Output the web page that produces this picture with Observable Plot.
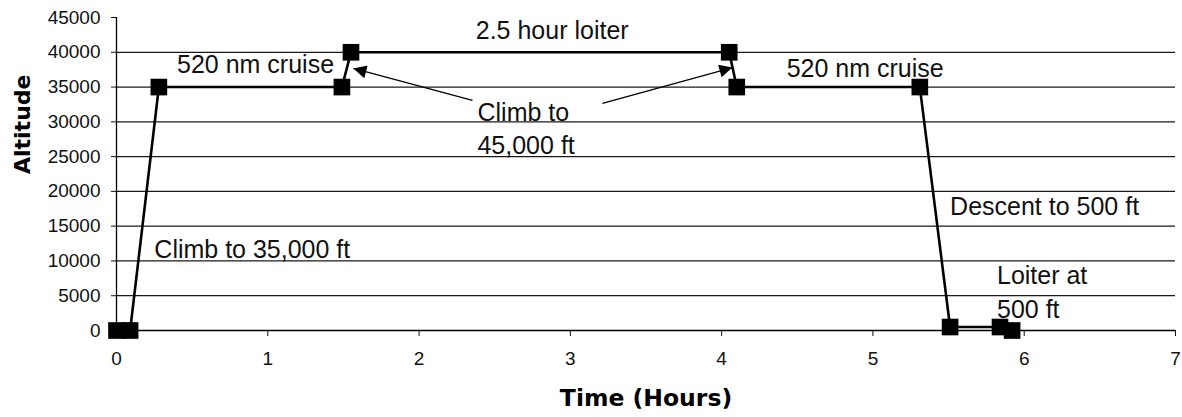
<!DOCTYPE html>
<html>
<head>
<meta charset="utf-8">
<script src="https://cdn.jsdelivr.net/npm/d3@7"></script>
<script src="https://cdn.jsdelivr.net/npm/@observablehq/plot@0.6"></script>
<style>
  html, body { margin: 0; padding: 0; background: #fff; }
</style>
</head>
<body>
<div id="chart"></div>
<script>
// Mission profile data
const timeHours   = [0, 0.09, 0.28, 1.49, 1.55, 4.05, 4.10, 5.31, 5.51, 5.84, 5.92];
const altitudeFt  = [0, 0, 35000, 35000, 40000, 40000, 35000, 35000, 500, 500, 0];

const xTickValues = [0, 1, 2, 3, 4, 5, 6, 7];
const yTickValues = [0, 5000, 10000, 15000, 20000, 25000, 30000, 35000, 40000, 45000];
const gridLevels  = [5000, 10000, 15000, 20000, 25000, 30000, 35000, 40000];

// Annotations
const annText   = ["2.5 hour loiter", "520 nm cruise", "520 nm cruise", "Climb to", "45,000 ft",
                   "Climb to 35,000 ft", "Descent to 500 ft", "Loiter at", "500 ft"];
const annTime   = [2.88, 0.40, 4.43, 2.386, 2.386, 0.25, 5.51, 5.82, 5.82];
const annAlt    = [43090, 38200, 37600, 31300, 26550, 11600, 17780, 7860, 2980];
const annAnchor = ["middle", "start", "start", "start", "start", "start", "start", "start", "start"];

// Callout arrows (tail -> head)
const arrowT1 = [2.353, 3.212];
const arrowA1 = [33070, 32640];
const arrowT2 = [1.566, 4.071];
const arrowA2 = [37670, 37810];

const points = timeHours.map((t, i) => ({t, alt: altitudeFt[i]}));
const notes = annText.map((s, i) => ({s, t: annTime[i], alt: annAlt[i], anchor: annAnchor[i]}));
const arrows = arrowT1.map((t, i) => ({t1: t, a1: arrowA1[i], t2: arrowT2[i], a2: arrowA2[i]}));

const chart = Plot.plot({
  width: 1182,
  height: 417,
  marginLeft: 116,
  marginRight: 7,
  marginTop: 17,
  marginBottom: 87,
  style: {fontFamily: "'Liberation Sans', Arial, sans-serif", fontSize: "19px", color: "#111", background: "#fff"},
  x: {domain: [0, 7], ticks: xTickValues, tickSize: 6, tickPadding: 15, label: null, tickFormat: d3.format("d")},
  y: {domain: [0, 45000], ticks: yTickValues, tickSize: 5, tickPadding: 11, label: null, tickFormat: d3.format("d")},
  marks: [
    Plot.ruleY(gridLevels, {stroke: "#1a1a1a", strokeWidth: 1.3}),
    Plot.ruleY([0], {stroke: "#000", strokeWidth: 1.3}),
    Plot.ruleX([0], {y1: 0, y2: 45000, stroke: "#000", strokeWidth: 1.3}),
    Plot.line(points, {x: "t", y: "alt", stroke: "#000", strokeWidth: 2.6}),
    Plot.dot(points, {x: "t", y: "alt", symbol: "square", r: 9.4, fill: "#000", stroke: "none"}),
    Plot.link(arrows, {x1: "t1", y1: "a1", x2: "t2", y2: "a2", stroke: "#000", strokeWidth: 1.3}),
    Plot.text(notes.filter(d => d.anchor === "middle"), {x: "t", y: "alt", text: "s", textAnchor: "middle", lineAnchor: "middle", fontSize: 25, fill: "#111"}),
    Plot.text(notes.filter(d => d.anchor === "start"), {x: "t", y: "alt", text: "s", textAnchor: "start", lineAnchor: "middle", fontSize: 25, fill: "#111"}),
    Plot.text(["Time (Hours)"], {frameAnchor: "bottom", dy: 68, lineAnchor: "middle", fontSize: 23.5, fontWeight: "bold", fontFamily: "'DejaVu Sans', sans-serif", fill: "#000"}),
    Plot.text(["Altitude"], {frameAnchor: "left", dx: -94, rotate: -90, lineAnchor: "middle", fontSize: 22, fontWeight: "bold", fontFamily: "'DejaVu Sans', sans-serif", fill: "#000"})
  ]
});

// Filled triangular arrowheads for the callout links
const svg = d3.select(chart);
const defs = svg.insert("defs", ":first-child");
defs.append("marker")
  .attr("id", "tri-head")
  .attr("viewBox", "0 0 10 10")
  .attr("refX", 10)
  .attr("refY", 5)
  .attr("markerUnits", "userSpaceOnUse")
  .attr("markerWidth", 20)
  .attr("markerHeight", 13)
  .attr("orient", "auto")
  .append("path")
  .attr("d", "M0,0L10,5L0,10Z")
  .attr("fill", "#000");
svg.selectAll("g[aria-label=link] path").attr("marker-end", "url(#tri-head)");

document.getElementById("chart").appendChild(chart);
</script>
</body>
</html>
